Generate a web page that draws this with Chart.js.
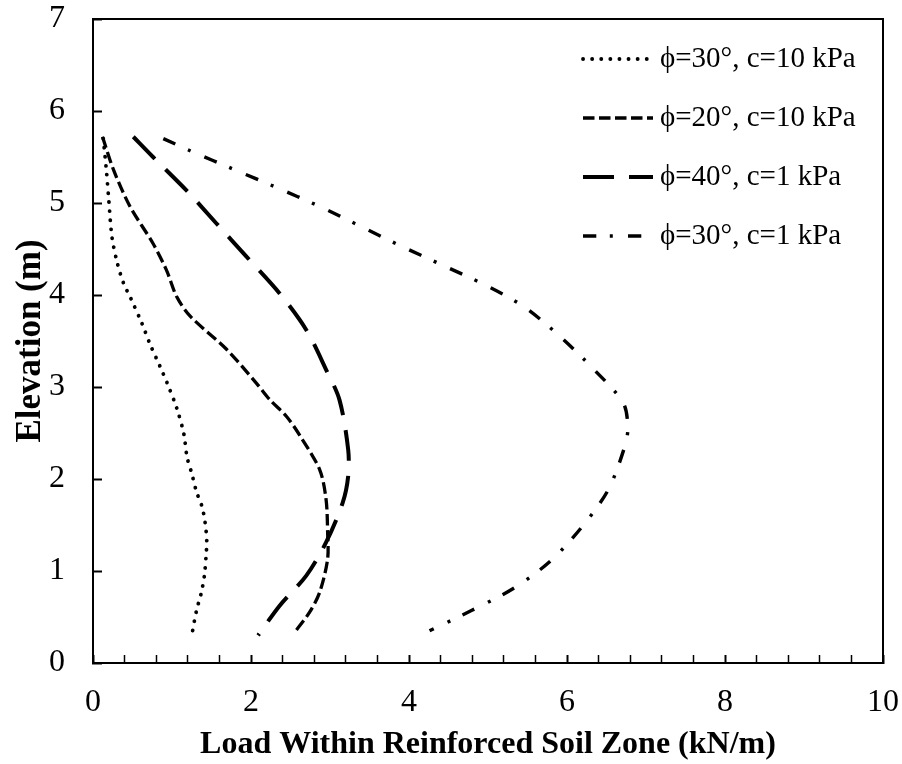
<!DOCTYPE html>
<html>
<head>
<meta charset="utf-8">
<script src="https://cdn.jsdelivr.net/npm/chart.js@4.4.1/dist/chart.umd.min.js"></script>
<style>
  body { margin: 0; background: #fff; }
  canvas { display: block; }
</style>
</head>
<body>
<canvas id="loadChart" width="902" height="764"></canvas>
<script>
// load in the reinforced zone (kN/m) against elevation (m), one pair of arrays per case
const seriesLabels = ['ϕ=30°, c=10 kPa', 'ϕ=20°, c=10 kPa', 'ϕ=40°, c=1 kPa', 'ϕ=30°, c=1 kPa'];

const load30c10 = [0.13, 0.17, 0.20, 0.24, 0.31, 0.39, 0.47, 0.62, 0.72, 0.85, 0.94, 1.06, 1.15, 1.19, 1.25, 1.31, 1.38, 1.42, 1.44, 1.43, 1.41, 1.37, 1.31, 1.25];
const elev30c10 = [5.70, 5.35, 5.03, 4.63, 4.34, 4.12, 3.98, 3.69, 3.47, 3.22, 3.04, 2.77, 2.49, 2.24, 2.06, 1.86, 1.70, 1.52, 1.33, 1.15, 0.95, 0.76, 0.57, 0.30];

const load20c10 = [0.12, 0.26, 0.47, 0.76, 0.93, 1.06, 1.23, 1.69, 2.07, 2.24, 2.45, 2.62, 2.87, 2.95, 2.97, 2.97, 2.87, 2.74, 2.55];
const elev20c10 = [5.72, 5.36, 4.96, 4.56, 4.27, 3.98, 3.77, 3.41, 3.04, 2.86, 2.68, 2.47, 2.10, 1.78, 1.42, 1.13, 0.77, 0.55, 0.33];

const load40c1 = [0.51, 0.76, 1.18, 1.56, 1.94, 2.36, 2.70, 2.95, 3.12, 3.23, 3.23, 3.16, 2.95, 2.70, 2.36, 2.09];
const elev40c1 = [5.72, 5.50, 5.14, 4.78, 4.42, 4.02, 3.62, 3.19, 2.86, 2.32, 2.03, 1.74, 1.31, 0.95, 0.62, 0.30];

const load30c1 = [0.89, 1.25, 1.77, 2.32, 2.85, 3.38, 3.88, 4.41, 4.96, 5.46, 5.91, 6.33, 6.71, 6.77, 6.73, 6.52, 6.18, 5.78, 5.32, 4.79, 4.26];
const elev30c1 = [5.70, 5.56, 5.37, 5.17, 4.97, 4.75, 4.54, 4.33, 4.11, 3.87, 3.55, 3.20, 2.83, 2.56, 2.35, 1.88, 1.47, 1.10, 0.81, 0.57, 0.35];

const xTickLabels = [0, 2, 4, 6, 8, 10];
const yTickLabels = [0, 1, 2, 3, 4, 5, 6, 7];

function toPoints(xs, ys) {
  return xs.map((x, i) => ({ x: x, y: ys[i] }));
}

const serif = '"Liberation Serif", "Times New Roman", serif';

// legend sits inside the plot, top right
const insideLegend = {
  id: 'insideLegend',
  afterDraw(chart) {
    const ctx = chart.ctx;
    const area = chart.chartArea;
    ctx.save();
    ctx.font = '29px ' + serif;
    ctx.textBaseline = 'middle';
    ctx.fillStyle = '#000';
    chart.data.datasets.forEach((ds, i) => {
      const y = area.top + 40 + i * 59;
      const x0 = area.right - 300;
      ctx.beginPath();
      ctx.setLineDash(ds.borderDash);
      ctx.lineCap = ds.borderCapStyle;
      ctx.lineWidth = ds.borderWidth;
      ctx.strokeStyle = ds.borderColor;
      ctx.moveTo(x0, y);
      ctx.lineTo(x0 + 70, y);
      ctx.stroke();
      ctx.setLineDash([]);
      ctx.fillText(ds.label, x0 + 77, y);
    });
    ctx.restore();
  }
};

// closes the box on the top and right
const plotFrame = {
  id: 'plotFrame',
  afterDraw(chart) {
    const ctx = chart.ctx;
    const a = chart.chartArea;
    ctx.save();
    ctx.strokeStyle = '#000';
    ctx.lineWidth = 2;
    ctx.strokeRect(a.left, a.top, a.right - a.left, a.bottom - a.top);
    ctx.restore();
  }
};

new Chart(document.getElementById('loadChart'), {
  type: 'scatter',
  data: {
    datasets: [
      { label: seriesLabels[0], data: toPoints(load30c10, elev30c10), borderColor: '#000', borderWidth: 3.8, borderDash: [0.1, 9], borderCapStyle: 'round' },
      { label: seriesLabels[1], data: toPoints(load20c10, elev20c10), borderColor: '#000', borderWidth: 3.3, borderDash: [11.5, 4.5], borderCapStyle: 'butt' },
      { label: seriesLabels[2], data: toPoints(load40c1, elev40c1), borderColor: '#000', borderWidth: 4, borderDash: [31, 15], borderCapStyle: 'butt' },
      { label: seriesLabels[3], data: toPoints(load30c1, elev30c1), borderColor: '#000', borderWidth: 3.4, borderDash: [13.3, 13.5, 3, 15.2], borderCapStyle: 'butt' }
    ].map(ds => Object.assign(ds, { showLine: true, pointRadius: 0, pointHoverRadius: 0, tension: 0.3, fill: false }))
  },
  options: {
    responsive: false,
    animation: false,
    devicePixelRatio: 1,
    layout: { padding: { left: 0, right: 19, top: 19, bottom: 0 } },
    plugins: { legend: { display: false }, tooltip: { enabled: false } },
    scales: {
      x: {
        type: 'linear',
        min: 0,
        max: 10,
        afterFit(scale) {
          scale.height = 101;
          scale.paddingLeft = 0;
          scale.paddingRight = 0;
        },
        ticks: {
          stepSize: 0.4,
          autoSkip: false,
          maxRotation: 0,
          padding: 28,
          color: '#000',
          font: { family: serif, size: 32 },
          callback: v => xTickLabels.some(t => Math.abs(t - v) < 1e-6) ? String(Math.round(v)) : ''
        },
        grid: {
          drawOnChartArea: false,
          tickLength: -8,
          tickColor: '#000',
          tickWidth: c => xTickLabels.some(t => Math.abs(t - c.tick.value) < 1e-6) ? 2 : 1.5
        },
        border: { display: true, color: '#000', width: 2 },
        title: {
          display: true,
          text: 'Load Within Reinforced Soil Zone (kN/m)',
          color: '#000',
          font: { family: serif, size: 32, weight: 'bold' },
          padding: { top: 0, bottom: 0 }
        }
      },
      y: {
        type: 'linear',
        min: 0,
        max: 7,
        afterFit(scale) {
          scale.width = 93;
          scale.paddingTop = 0;
          scale.paddingBottom = 0;
        },
        ticks: {
          stepSize: 1,
          padding: 37,
          color: '#000',
          font: { family: serif, size: 32 },
          callback: v => yTickLabels.includes(v) ? String(v) : ''
        },
        grid: {
          drawOnChartArea: false,
          tickLength: -9,
          tickColor: '#000',
          tickWidth: 2
        },
        border: { display: true, color: '#000', width: 2 },
        title: {
          display: true,
          text: 'Elevation (m)',
          color: '#000',
          font: { family: serif, size: 35, weight: 'bold' },
          padding: { top: 10, bottom: 0 }
        }
      }
    }
  },
  plugins: [insideLegend, plotFrame]
});
</script>
</body>
</html>
